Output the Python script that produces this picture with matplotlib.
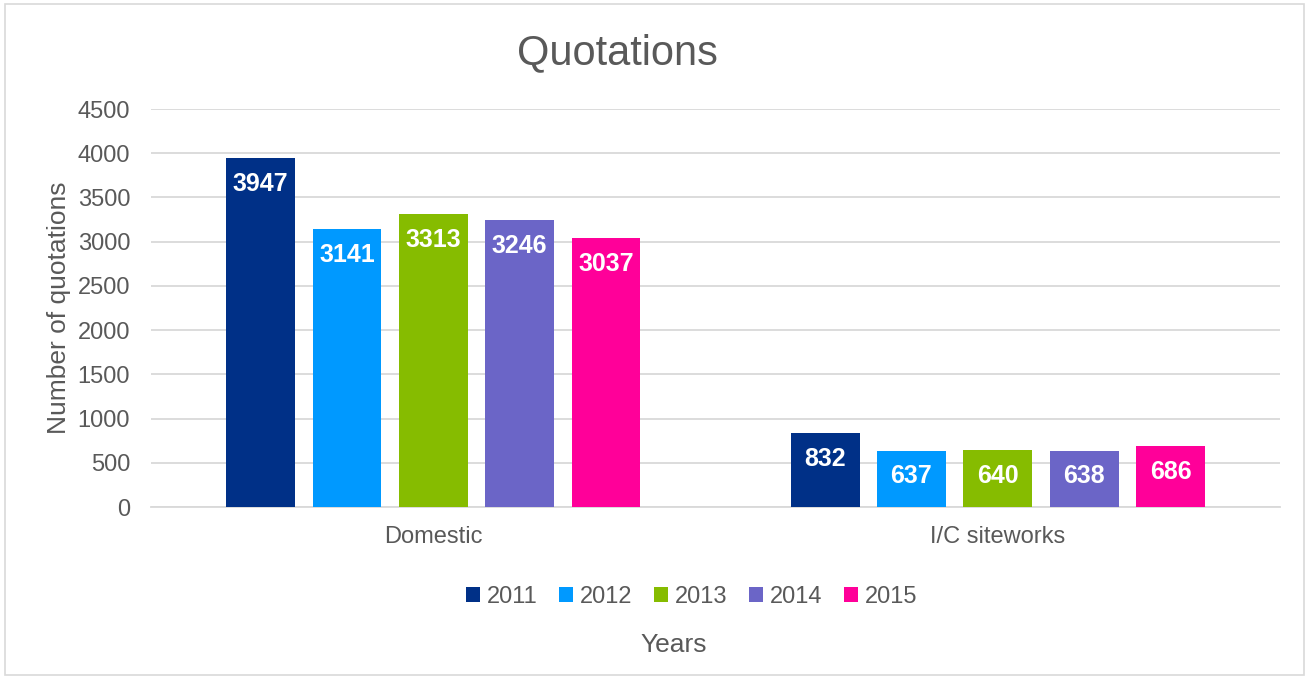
import matplotlib
matplotlib.use("Agg")
import matplotlib.pyplot as plt
import numpy as np

plt.rcParams['font.family'] = ['Liberation Sans', 'DejaVu Sans']

categories = ['Domestic', 'I/C siteworks']
years = ['2011', '2012', '2013', '2014', '2015']
values = {
    '2011': [3947, 832],
    '2012': [3141, 637],
    '2013': [3313, 640],
    '2014': [3246, 638],
    '2015': [3037, 686],
}
colors = ['#003087', '#0099ff', '#86bc00', '#6b65c7', '#ff0099']

grey = '#595959'

fig = plt.figure(figsize=(13.09, 6.78), dpi=100)
ax = fig.add_axes([0.1154, 0.2522, 0.8625, 0.587])

x = np.arange(len(categories))
step = 0.153
width = 0.122
for i, yr in enumerate(years):
    pos = x + (i - 2) * step
    bars = ax.bar(pos, values[yr], width, color=colors[i], label=yr, zorder=3)
    for b, v in zip(bars, values[yr]):
        ax.text(b.get_x() + b.get_width() / 2, v - 290, str(v), ha='center', va='center',
                color='white', fontsize=18, fontweight='bold', zorder=4)

ax.set_xlim(-0.5, 1.5)
ax.set_ylim(0, 4500)
ax.set_yticks(range(0, 4501, 500))
ax.set_xticks(x)
ax.set_xticklabels(categories)
ax.tick_params(axis='both', length=0, labelsize=17, labelcolor=grey)
ax.tick_params(axis='x', pad=14)
ax.tick_params(axis='y', pad=15)
ax.grid(axis='y', color='#d9d9d9', linewidth=1.3, zorder=0)
for s in ['top', 'right', 'left']:
    ax.spines[s].set_visible(False)
ax.spines['bottom'].set_color('#d9d9d9')
ax.spines['bottom'].set_linewidth(1.3)

ax.set_ylabel('Number of quotations', fontsize=19, color=grey, labelpad=5)
fig.text(0.472, 0.922, 'Quotations', ha='center', va='center', fontsize=30, color=grey)
fig.text(0.515, 0.048, 'Years', ha='center', va='center', fontsize=19, color=grey)

ax.legend(loc='center', bbox_to_anchor=(0.479, -0.225), ncol=5, frameon=False,
          fontsize=17, labelcolor=grey, handlelength=0.6, handleheight=0.6,
          handletextpad=0.3, columnspacing=0.9)

fig.patches.append(plt.Rectangle((0.004, 0.004), 0.992, 0.99, transform=fig.transFigure,
                                 fill=False, edgecolor='#d9d9d9', linewidth=1.2))

fig.savefig('out.png', dpi=100)
